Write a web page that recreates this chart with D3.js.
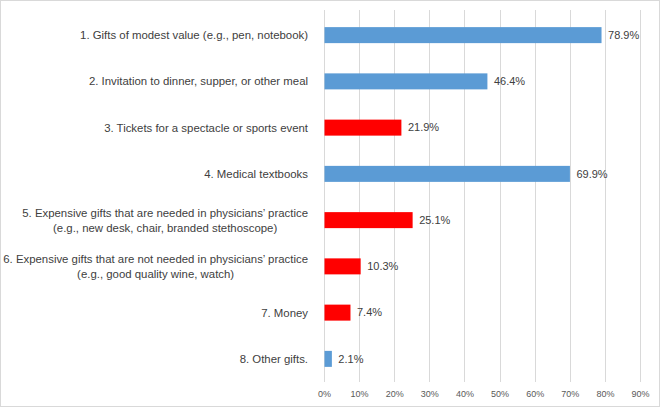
<!DOCTYPE html>
<html>
<head>
<meta charset="utf-8">
<script src="https://cdn.jsdelivr.net/npm/d3@7"></script>
<style>
  body { margin: 0; background: #fff; }
  svg text { font-family: "Liberation Sans", "Noto Sans", sans-serif; }
</style>
</head>
<body>
<div id="chart"></div>
<script>
// categories (each entry = lines of the label)
var categories = [
  ["1. Gifts of modest value (e.g., pen, notebook)"],
  ["2. Invitation to dinner, supper, or other meal"],
  ["3. Tickets for a spectacle or sports event"],
  ["4. Medical textbooks"],
  ["5. Expensive gifts that are needed in physicians\u2019 practice", "(e.g., new desk, chair, branded stethoscope)"],
  ["6. Expensive gifts that are not needed in physicians\u2019 practice", "(e.g., good quality wine, watch)"],
  ["7. Money"],
  ["8. Other gifts."]
];
var values = [78.9, 46.4, 21.9, 69.9, 25.1, 10.3, 7.4, 2.1];
// which bars are highlighted (red) vs. default (blue)
var highlighted = [false, false, true, false, true, true, true, false];
var ticks = [0, 10, 20, 30, 40, 50, 60, 70, 80, 90];

var svgWidth = 660;
var svgHeight = 407;

var margin = { top: 12, right: 20, bottom: 25, left: 324 };
var width = 640 - margin.left;
var height = 382 - margin.top;

var svg = d3.select("#chart")
  .append("svg")
  .attr("width", svgWidth)
  .attr("height", svgHeight);

// outer frame
svg.append("rect")
  .attr("x", 0.5).attr("y", 0.5)
  .attr("width", svgWidth - 1).attr("height", svgHeight - 1)
  .attr("fill", "#fff")
  .attr("stroke", "#d9d9d9");

var chartGroup = svg.append("g")
  .attr("transform", `translate(${margin.left}, ${margin.top})`);

var xScale = d3.scaleLinear().domain([0, 90]).range([0, width]);
var yScale = d3.scaleBand()
  .domain(d3.range(categories.length))
  .range([0, height])
  .paddingInner(0.654)
  .paddingOuter(0.327);

// gridlines
chartGroup.append("g")
  .selectAll("line")
  .data(ticks)
  .enter()
  .append("line")
  .attr("x1", d => Math.round(xScale(d)) + 0.5)
  .attr("x2", d => Math.round(xScale(d)) + 0.5)
  .attr("y1", -2)
  .attr("y2", height)
  .attr("stroke", "#d9d9d9")
  .attr("stroke-width", 1);

// x axis labels
var bottomAxis = d3.axisBottom(xScale)
  .tickValues(ticks)
  .tickFormat(d => d + "%")
  .tickSize(0)
  .tickPadding(9);

var xAxis = chartGroup.append("g")
  .attr("transform", `translate(0, ${height})`)
  .call(bottomAxis);
xAxis.select(".domain").remove();
xAxis.selectAll("text")
  .attr("fill", "#595959")
  .attr("font-size", 9);

// bars
chartGroup.selectAll("rect.bar")
  .data(values)
  .enter()
  .append("rect")
  .attr("class", "bar")
  .attr("x", xScale(0) + 0.5)
  .attr("y", (d, i) => yScale(i))
  .attr("width", d => xScale(d))
  .attr("height", yScale.bandwidth())
  .attr("fill", (d, i) => highlighted[i] ? "#ff0000" : "#5b9bd5");

// value labels
chartGroup.selectAll("text.value")
  .data(values)
  .enter()
  .append("text")
  .attr("class", "value")
  .attr("x", d => xScale(d) + 7)
  .attr("y", (d, i) => yScale(i) + yScale.bandwidth() / 2)
  .attr("dy", "0.35em")
  .attr("font-size", 11)
  .attr("fill", "#404040")
  .text(d => d.toFixed(1) + "%");

// category labels
var labels = chartGroup.selectAll("text.cat")
  .data(categories)
  .enter()
  .append("text")
  .attr("class", "cat")
  .attr("text-anchor", "middle")
  .attr("font-size", 11.4)
  .attr("fill", "#404040");

labels.each(function(lines, i) {
  var t = d3.select(this);
  var cy = yScale(i) + yScale.bandwidth() / 2;
  var lh = 15;
  var y0 = cy - (lines.length - 1) * lh / 2;
  // right-align the block; shorter lines centered under the first
  var widest = 0;
  var spans = lines.map(function(s, j) {
    return t.append("tspan")
      .attr("y", y0 + j * lh)
      .attr("dy", "0.35em")
      .text(s);
  });
  spans.forEach(function(sp) {
    widest = Math.max(widest, sp.node().getComputedTextLength());
  });
  var cx = -16 - widest / 2;
  spans.forEach(function(sp) { sp.attr("x", cx); });
});
</script>
</body>
</html>
